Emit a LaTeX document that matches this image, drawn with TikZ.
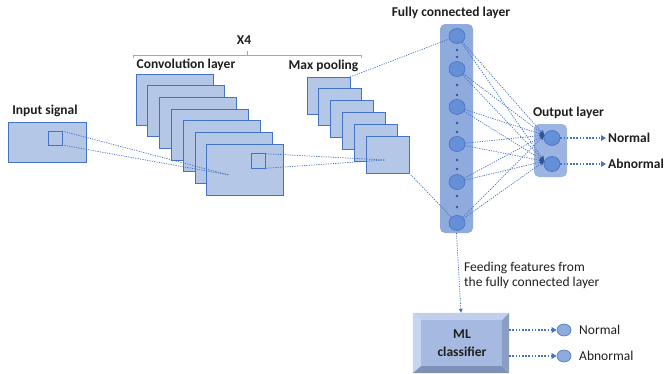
\documentclass[tikz,border=0pt]{standalone}
\usepackage{fontspec}
\setmainfont{Carlito}
\usetikzlibrary{arrows.meta,calc,shapes.geometric}
\definecolor{bfill}{HTML}{B4C7E7}
\definecolor{bline}{HTML}{4472C4}
\definecolor{fcfill}{HTML}{8FAADC}
\definecolor{ofill}{HTML}{9BB4E2}
\definecolor{nfill}{HTML}{6590D8}
\definecolor{dotc}{HTML}{2F5597}
\definecolor{txt}{HTML}{1E1E1E}
\definecolor{bvtop}{HTML}{BFCFEC}
\definecolor{bvleft}{HTML}{C8D5EE}
\definecolor{bvright}{HTML}{8A9EC4}
\definecolor{bvbot}{HTML}{7E92B8}
\definecolor{bvface}{HTML}{A5B9E1}
\begin{document}
\begin{tikzpicture}[x=1pt,y=-1pt,
 lbl/.style={font=\fontsize{13.5}{15}\selectfont\bfseries, text=txt, inner sep=0},
 plain/.style={font=\fontsize{13.5}{15.5}\selectfont, text=txt, inner sep=0},
 fmap/.style={draw=bline, fill=bfill, line width=0.7pt, inner sep=0, outer sep=0},
 neuron/.style={ellipse, draw=bline, fill=nfill, minimum width=16pt, minimum height=15pt, inner sep=0, line width=0.6pt},
 outneuron/.style={ellipse, draw=bline, fill=fcfill, minimum width=14pt, minimum height=12pt, inner sep=0, line width=0.6pt},
 link/.style={draw=bline, line width=0.7pt, dash pattern=on 1.2pt off 1.2pt},
 outarrow/.style={draw=bline, line width=1.6pt, dash pattern=on 1.6pt off 1.6pt, -{Triangle[length=5pt,width=5.5pt]}},
 fcdot/.style={circle, fill=dotc, minimum size=2.6pt, inner sep=0},
]
\useasboundingbox (0,0) rectangle (665,373);

% input signal
\node[lbl] (lin) at (45,111) {Input signal};
\node[fmap, minimum width=78pt, minimum height=40pt] (in) at (47,142) {};
\node[fmap, minimum size=14pt] (ins) at (55,138) {};

% X4 brace
\node[lbl] (x4) at (244,40) {X4};
\draw[fcfill, line width=0.8pt] (133,58) -- (133,55) -- (361,55) -- (361,58);
\draw[fcfill, line width=0.8pt] (247,55) -- (247,51);

% convolution stack
\node[lbl] (lconv) at (186,65) {Convolution layer};
\foreach \i in {0,...,6}{
  \node[fmap, minimum width=77pt, minimum height=51pt] (c\i) at ({174.5+11.8*\i},{99.5+11.7*\i}) {};
}
\node[fmap, minimum size=14.5pt] (cs) at (258.5,161) {};
\coordinate (t1) at (229,175);
\draw[link] (ins.north east) -- (t1);
\draw[link] (ins.south east) -- (t1);

% max pooling stack
\node[lbl] (lpool) at (323.5,66) {Max pooling};
\foreach \i in {0,...,5}{
  \node[fmap, minimum width=43pt, minimum height=37pt] (p\i) at ({328.5+11.8*\i},{95.5+11.8*\i}) {};
}
\coordinate (t2) at (385,160);
\draw[link] (cs.north east) -- (t2);
\draw[link] (cs.south east) -- (t2);

% fully connected layer
\node[lbl] (lfc) at (451,13) {Fully connected layer};
\node[fill=fcfill, rounded corners=5pt, minimum width=33pt, minimum height=209pt, inner sep=0] (fc) at (456.5,128.5) {};
\foreach \y [count=\k] in {36,69,107,144,182,223}{
  \node[neuron] (n\k) at (457,\y) {};
}
\foreach \y [count=\k] in {50,57,85,95,123,132,160,169,196,207}{
  \node[fcdot] (d\k) at (457,\y) {};
}

% output layer
\node[lbl] (lout) at (568.5,113) {Output layer};
\node[fill=ofill, rounded corners=5pt, minimum width=33pt, minimum height=53pt, inner sep=0] (ob) at (550.5,150.5) {};
\node[neuron] (o1) at (552,138) {};
\node[neuron] (o2) at (552,164) {};

\draw[link] (p0.north east) -- (n1);
\draw[link] (p5.south east) -- (n6);
\foreach \k in {1,...,6}{
  \foreach \o in {1,2}{
    \draw[link, -{Stealth[length=5pt,width=5pt,line width=0pt,fill=dotc]}] (n\k) -- (o\o.160);
  }
}

\node[lbl, anchor=west] (on1) at (608,138) {Normal};
\node[lbl, anchor=west] (on2) at (608,164) {Abnormal};
\draw[outarrow] (o1) -- ([xshift=-2pt]on1.west);
\draw[outarrow] (o2) -- ([xshift=-2pt]on2.west);

% feeding features
\node[plain, anchor=west, align=left] (feed) at (464,275.5) {Feeding features from\\the fully connected layer};

% ML classifier bevel box
\node[inner sep=0, minimum width=96pt, minimum height=60pt] (ml) at (461,343) {};
\fill[bvtop] (ml.north west) -- (ml.north east) -- ($(ml.north east)+(-7,7)$) -- ($(ml.north west)+(8,7)$) -- cycle;
\fill[bvleft] (ml.north west) -- ($(ml.north west)+(8,7)$) -- ($(ml.south west)+(8,-7)$) -- (ml.south west) -- cycle;
\fill[bvright] (ml.north east) -- (ml.south east) -- ($(ml.south east)+(-7,-7)$) -- ($(ml.north east)+(-7,7)$) -- cycle;
\fill[bvbot] (ml.south west) -- (ml.south east) -- ($(ml.south east)+(-7,-7)$) -- ($(ml.south west)+(8,-7)$) -- cycle;
\fill[bvface] ($(ml.north west)+(8,7)$) rectangle ($(ml.south east)+(-7,-7)$);
\node[lbl, align=center, font=\fontsize{13.5}{17.5}\selectfont\bfseries] (mltxt) at (462,343) {ML\\classifier};

\draw[link, -{Triangle[length=4pt,width=4pt,line width=0pt]}] (fc.south) -- (ml.north);

% ML outputs
\node[outneuron] (e1) at (564,330) {};
\node[outneuron] (e2) at (564,356) {};
\draw[outarrow] (ml.east |- e1) -- (e1);
\draw[outarrow] (ml.east |- e2) -- (e2);
\node[plain, anchor=west] (mn1) at (579,330) {Normal};
\node[plain, anchor=west] (mn2) at (579,356) {Abnormal};
\end{tikzpicture}
\end{document}
